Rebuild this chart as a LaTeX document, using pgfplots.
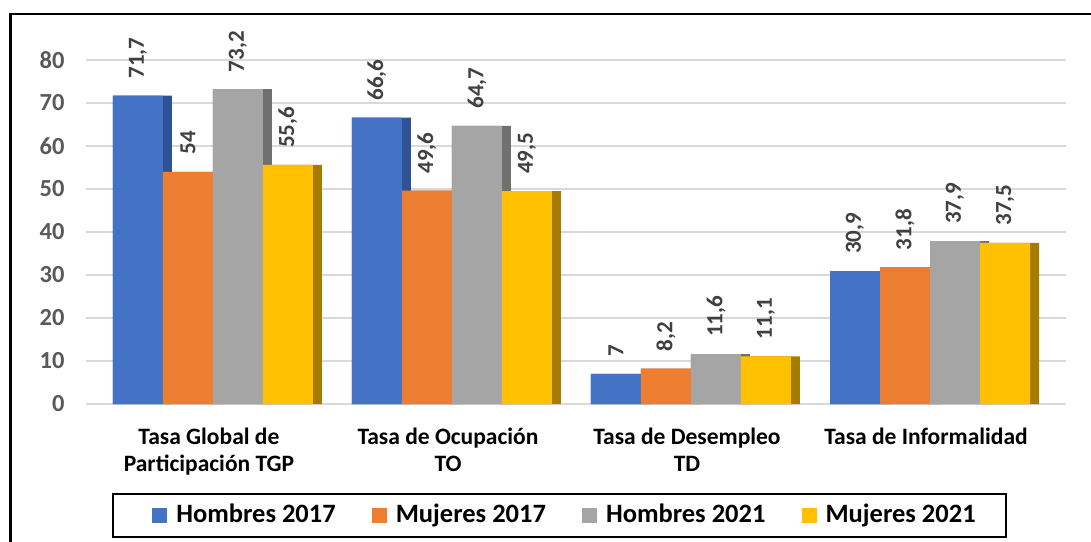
\documentclass[border=0pt]{standalone}
\usepackage{pgfplots}
\pgfplotsset{compat=1.18}
\usepackage{fontspec}
\setmainfont{Carlito}
\definecolor{cblue}{HTML}{4472C4}
\definecolor{cbluedk}{HTML}{2F5294}
\definecolor{corange}{HTML}{ED7D31}
\definecolor{corangedk}{HTML}{AE5A21}
\definecolor{cgray}{HTML}{A5A5A5}
\definecolor{cgraydk}{HTML}{707070}
\definecolor{cyellow}{HTML}{FFC000}
\definecolor{cyellowdk}{HTML}{A67C00}
\definecolor{ticktext}{HTML}{595959}
\definecolor{labeltext}{HTML}{404040}
\definecolor{gridgray}{HTML}{D9D9D9}
\begin{document}
\begin{tikzpicture}
\useasboundingbox (0,0) rectangle (1091pt,541pt);
\fill[white] (0,0) rectangle (1091pt,541pt);
\draw[line width=2.5pt] (10.5pt,-5pt) -- (10.5pt,527pt) -- (1100pt,527pt);
\begin{axis}[
  at={(86pt,137pt)}, anchor=south west,
  scale only axis, width=980pt, height=344pt,
  ymin=0, ymax=80, xmin=-0.531, xmax=3.569,
  ytick={0,10,...,80}, xtick={0,1,2,3},
  xticklabels={{Tasa Global de\\Participación TGP},{Tasa de Ocupación\\TO},{Tasa de Desempleo\\TD},{Tasa de Informalidad}},
  xticklabel style={align=center, font=\bfseries\fontsize{23.5}{27}\selectfont, text=black, xshift=-4pt, yshift=-20pt},
  yticklabel style={font=\bfseries\fontsize{24.5}{28}\selectfont, text=ticktext, xshift=-18pt},
  major tick length=0pt,
  axis line style={draw=none},
  ymajorgrids, grid style={line width=2pt, color=gridgray},
  /pgf/number format/assume math mode=true,
  /pgf/number format/use comma,
  clip=false,
  legend columns=4,
  legend style={at={(0.4832,-0.3241)}, anchor=center, draw=black, line width=2pt,
    font=\bfseries\fontsize{26.5}{30}\selectfont, inner xsep=26pt, inner ysep=8pt,
    nodes={inner xsep=4pt, inner ysep=2pt, text height=19pt, text depth=4pt},
    /tikz/every even column/.append style={column sep=19pt}},
  mylegend/.style={legend image code/.code={\fill[##1] (0pt,-7.5pt) rectangle (15pt,7.5pt); \path (20pt,0pt) (-13pt,0pt);}},
  dk/.style={ybar, draw=none, bar width=59pt, forget plot},
  fr/.style={ybar, draw=none, bar width=50pt, mylegend},
  lab/.style={forget plot, draw=none, mark=none, nodes near coords, point meta=explicit symbolic,
    every node near coord/.append style={rotate=90, anchor=west, inner xsep=17pt, inner ysep=0pt,
      font=\bfseries\fontsize{23}{27}\selectfont, text=labeltext}},
]
% dark side faces
\addplot[dk, fill=cbluedk, bar shift=-70.5pt] coordinates {(0,71.7) (1,66.6) (2,7) (3,30.9)};
\addplot[dk, fill=corangedk, bar shift=-20.5pt] coordinates {(0,54) (1,49.6) (2,8.2) (3,31.8)};
\addplot[dk, fill=cgraydk, bar shift=29.5pt] coordinates {(0,73.2) (1,64.7) (2,11.6) (3,37.9)};
\addplot[dk, fill=cyellowdk, bar shift=79.5pt] coordinates {(0,55.6) (1,49.5) (2,11.1) (3,37.5)};
% front faces
\addplot[fr, fill=cblue, bar shift=-75pt] coordinates {(0,71.7) (1,66.6) (2,7) (3,30.9)};
\addplot[fr, fill=corange, bar shift=-25pt] coordinates {(0,54) (1,49.6) (2,8.2) (3,31.8)};
\addplot[fr, fill=cgray, bar shift=25pt] coordinates {(0,73.2) (1,64.7) (2,11.6) (3,37.9)};
\addplot[fr, fill=cyellow, bar shift=75pt] coordinates {(0,55.6) (1,49.5) (2,11.1) (3,37.5)};
\legend{Hombres 2017, Mujeres 2017, Hombres 2021, Mujeres 2021}
% data labels
\addplot[lab] coordinates {(-0.3138,71.7) [71,7] (0.6862,66.6) [66,6] (1.6862,7) [7] (2.6862,30.9) [30,9]};
\addplot[lab] coordinates {(-0.1046,54) [54] (0.8954,49.6) [49,6] (1.8954,8.2) [8,2] (2.8954,31.8) [31,8]};
\addplot[lab] coordinates {(0.1046,73.2) [73,2] (1.1046,64.7) [64,7] (2.1046,11.6) [11,6] (3.1046,37.9) [37,9]};
\addplot[lab] coordinates {(0.3138,55.6) [55,6] (1.3138,49.5) [49,5] (2.3138,11.1) [11,1] (3.3138,37.5) [37,5]};
\end{axis}
\end{tikzpicture}
\end{document}
